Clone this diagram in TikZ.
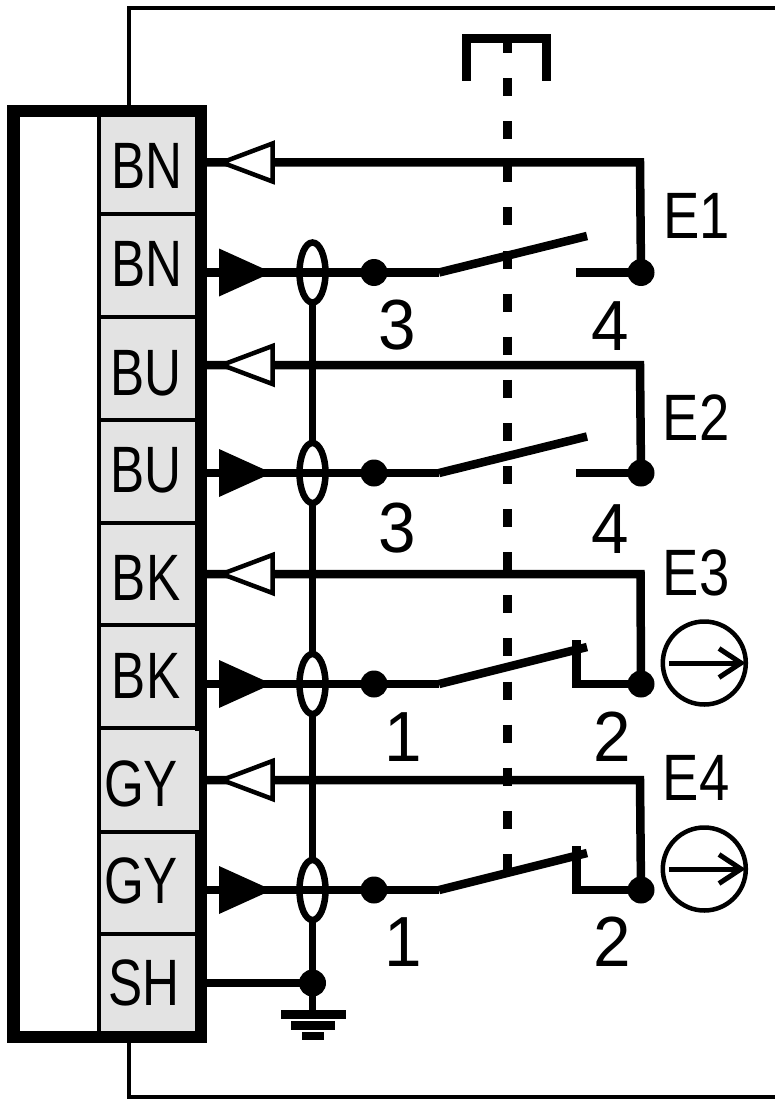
\documentclass[tikz,border=0pt]{standalone}
\usepackage{fontspec}
\setmainfont[FakeStretch=0.78]{Liberation Sans}
\newfontfamily\widerfont[FakeStretch=0.83]{Liberation Sans}
\newfontfamily\digitfont[FakeStretch=0.95]{Liberation Sans}
\definecolor{cellgrey}{gray}{0.89}
\tikzset{
  wire/.style={line width=8.5pt,line join=miter},
  bus/.style={line width=7pt},
  thin wire/.style={line width=4pt},
  dot/.style={circle,fill=black,minimum size=27pt,inner sep=0pt},
  cell text/.style={inner sep=0pt,font=\fontsize{65.6}{66}\selectfont,text height=47pt,text depth=0pt},
  term text/.style={inner sep=0pt,font=\widerfont\fontsize{65.6}{66}\selectfont,text height=47pt,text depth=0pt},
  digit text/.style={inner sep=0pt,font=\digitfont\fontsize{71}{72}\selectfont,text height=52pt,text depth=0pt},
  open tip/.style={line width=4.5pt,draw=black,fill=white,line join=miter},
  sleeve/.style={line width=6.5pt},
}
\begin{document}
\begin{tikzpicture}[x=1pt,y=-1pt]
\useasboundingbox (0,0) rectangle (775,1099);
\fill[white] (0,0) rectangle (775,1099);
% thin enclosure
\coordinate (encTop) at (129,105);
\coordinate (encBot) at (129,1043);
\draw[thin wire] (encTop) -- (129,8) -- (775,8);
\draw[thin wire] (encBot) -- (129,1097) -- (775,1097);
% connector body
\fill[cellgrey] (99,111) rectangle (201,1037);
\foreach \y in {214,317,420,523,625,728,832,934}
  \draw[thin wire] (99,\y) -- (201,\y);
\draw[thin wire] (99,111) -- (99,1037);
\draw[line width=12.5pt,line join=miter] (13.25,111.25) rectangle (200.75,1036.75);
\fill[cellgrey] (194,730.5) rectangle (199,829.5);
% cell labels
\node[cell text] (c1) at (147,165) {BN};
\node[cell text] (c2) at (147,263) {BN};
\node[cell text] (c3) at (146,371.5) {BU};
\node[cell text] (c4) at (146,468.5) {BU};
\node[cell text] (c5) at (146,577) {BK};
\node[cell text] (c6) at (146,674.5) {BK};
\node[cell text] (c7) at (141,783) {GY};
\node[cell text] (c8) at (141,880) {GY};
\node[cell text] (c9) at (144,982) {SH};
% terminal coordinates on the connector edge
\foreach \n/\y in {a/162.5,b/272.5,c/365,d/473,e/574,f/684,g/780,h/890,s/983}
  \coordinate (t\n) at (207,\y);
% inputs of the switches
\foreach \n/\y in {b/272.5,d/473,f/684,h/890}{
  \node[dot] (in\n) at (374,\y) {};
  \coordinate (bend\n) at (439,\y);
  \coordinate (sl\n) at (312.5,\y);
}
% outer wires
\node[dot] (ob) at (641,272.5) {};
\node[dot] (od) at (641,473) {};
\node[dot] (of) at (641,684) {};
\node[dot] (oh) at (641,890) {};
\draw[wire] (ta) -- (640,162.5) -- (ob.center);
\draw[wire] (tc) -- (640,365) -- (od.center);
\draw[wire] (te) -- (640.5,574) -- (of.center);
\draw[wire] (tg) -- (640,780) -- (oh.center);
% actuator dashed line and bracket
\coordinate (brL) at (466.5,81);
\coordinate (brR) at (546.5,81);
\draw[line width=9pt,line join=miter] (brL) -- (466.5,38.5) -- (546.5,38.5) -- (brR);
\coordinate (actT) at (507,35);
\coordinate (actB) at (507,873);
\draw[line width=9pt,dash pattern=on 18pt off 25.1pt] (actT) -- (actB);
% shield bus
\node[dot] (gnd) at (312.5,983) {};
\coordinate (earth) at (312.5,1012);
\draw[bus] (312.5,303) -- (312.5,443);
\draw[bus] (312.5,503) -- (312.5,654);
\draw[bus] (312.5,714) -- (312.5,860);
\draw[bus] (312.5,920) -- (earth);
\draw[wire] (ts) -- (gnd.center);
\fill (281,1010) rectangle (346,1019);
\fill (291,1021) rectangle (335,1030);
\fill (302,1032) rectangle (324,1040);
% open arrowheads
\foreach \y in {162.5,365,574,780}
  \draw[open tip] (222,\y) -- (272.5,\y-19) -- (272.5,\y+19) -- cycle;
% inputs: wire, solid arrowhead, sleeve, lever bend
\foreach \n/\y in {b/272.5,d/473,f/684,h/890}{
  \draw[wire] (t\n) -- (in\n.center) -- (bend\n);
  \fill (219,\y-24) -- (272,\y) -- (219,\y+24) -- cycle;
  \draw[sleeve] (sl\n) ellipse (13pt and 30pt);
}
% levers
\draw[wire,line join=bevel] (bendb) -- (587,236);
\draw[wire,line join=bevel] (bendd) -- (587,436.5);
\draw[wire,line join=bevel] (bendf) -- (587,647);
\draw[wire,line join=bevel] (bendh) -- (587,853);
\coordinate (cb) at (576,272.5);
\coordinate (cd) at (576,473);
\coordinate (cf) at (576.7,684);
\coordinate (ch) at (576.7,890);
\draw[wire] (cb) -- (ob.center);
\draw[wire] (cd) -- (od.center);
\draw[wire] (576.7,640) -- (cf) -- (of.center);
\draw[wire] (576.7,846) -- (ch) -- (oh.center);
% labels
\node[term text] (E1) at (696.5,215) {E1};
\node[term text] (E2) at (696,417) {E2};
\node[term text] (E3) at (696,571.5) {E3};
\node[term text] (E4) at (696,776.5) {E4};
\node[digit text] (n3a) at (397,323.5) {3};
\node[digit text] (n4a) at (610.5,324.5) {4};
\node[digit text] (n3b) at (397,526.5) {3};
\node[digit text] (n4b) at (610.5,527) {4};
\node[digit text] (n1a) at (403,735) {1};
\node[digit text] (n2a) at (612,735) {2};
\node[digit text] (n1b) at (403,940) {1};
\node[digit text] (n2b) at (612,940) {2};
% direction symbols
\foreach \y in {663,869}{
  \draw[line width=4.5pt] (704.3,\y) circle (41.5pt);
  \draw[line width=5pt] (669,\y) -- (741,\y);
  \draw[line width=5pt,line join=miter] (719,\y-14.5) -- (741,\y) -- (719,\y+14.5);
}
\end{tikzpicture}
\end{document}
